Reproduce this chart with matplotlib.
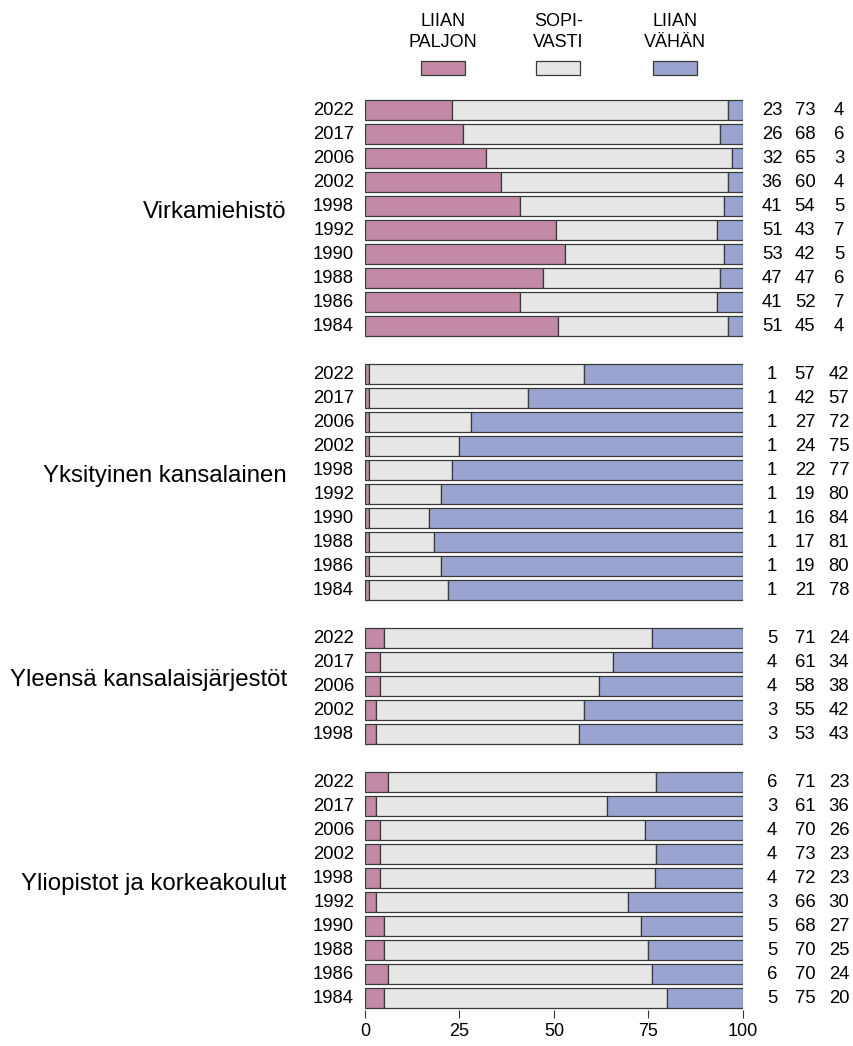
import matplotlib.pyplot as plt
from matplotlib.patches import Rectangle
from matplotlib.transforms import blended_transform_factory
import numpy as np

plt.rcParams["font.family"] = ["Liberation Sans", "DejaVu Sans"]

# survey groups, years (newest first) and answer shares in percent
groups = [
    "Virkamiehistö",
    "Yksityinen kansalainen",
    "Yleensä kansalaisjärjestöt",
    "Yliopistot ja korkeakoulut",
]
years_long = [2022, 2017, 2006, 2002, 1998, 1992, 1990, 1988, 1986, 1984]
years_short = [2022, 2017, 2006, 2002, 1998]
group_years = [years_long, years_long, years_short, years_long]

liian_paljon = [
    [23, 26, 32, 36, 41, 51, 53, 47, 41, 51],
    [1, 1, 1, 1, 1, 1, 1, 1, 1, 1],
    [5, 4, 4, 3, 3],
    [6, 3, 4, 4, 4, 3, 5, 5, 6, 5],
]
sopivasti = [
    [73, 68, 65, 60, 54, 43, 42, 47, 52, 45],
    [57, 42, 27, 24, 22, 19, 16, 17, 19, 21],
    [71, 61, 58, 55, 53],
    [71, 61, 70, 73, 72, 66, 68, 70, 70, 75],
]
liian_vahan = [
    [4, 6, 3, 4, 5, 7, 5, 6, 7, 4],
    [42, 57, 72, 75, 77, 80, 84, 81, 80, 78],
    [24, 34, 38, 42, 43],
    [23, 36, 26, 23, 23, 30, 27, 25, 24, 20],
]

legend_labels = ["LIIAN\nPALJON", "SOPI-\nVASTI", "LIIAN\nVÄHÄN"]
colors = ["#c38aa5", "#e6e6e6", "#9ba4d1"]
edge = "#3a3a3a"

fig = plt.figure(figsize=(8.54, 10.46), dpi=100)
ax = fig.add_axes([0.4274, 0.0344, 0.4426, 0.8719])

row = 0
for g, name in enumerate(groups):
    years = group_years[g]
    first = row
    for i, yr in enumerate(years):
        vals = np.array([liian_paljon[g][i], sopivasti[g][i], liian_vahan[g][i]], float)
        shares = vals / vals.sum() * 100
        left = 0.0
        for share, col in zip(shares, colors):
            ax.barh(row, share, left=left, height=0.83, color=col,
                    edgecolor=edge, linewidth=0.9)
            left += share
        ax.text(-2.9, row, str(yr), ha="right", va="center", fontsize=13.3)
        for xpos, v in zip([107.7, 116.4, 125.4], vals):
            ax.text(xpos, row, f"{int(v)}", ha="center", va="center",
                    fontsize=13.3, clip_on=False)
        row += 1
    mid = (first + row - 1) / 2
    ax.text(-20.7, mid - 0.25, name, ha="right", va="center", fontsize=17.3)
    row += 1

ax.set_ylim(row - 1.5, -0.5)
ax.set_xlim(0, 100)
ax.set_xticks([0, 25, 50, 75, 100])
ax.tick_params(axis="x", labelsize=13, length=5.5, color="#333333", pad=4)
ax.set_yticks([])
for side in ["top", "right", "left", "bottom"]:
    ax.spines[side].set_visible(False)

# legend boxes above the bars
trans = blended_transform_factory(ax.transData, fig.transFigure)
for xc, lab, col in zip([20.6, 51.1, 82.0], legend_labels, colors):
    ax.add_patch(Rectangle((xc - 5.8, 1 - 75 / 1046), 11.6, 14 / 1046,
                           transform=trans, facecolor=col, edgecolor=edge,
                           linewidth=0.9, clip_on=False))
    ax.text(xc, 1 - 32 / 1046, lab, transform=trans, ha="center", va="center",
            fontsize=13, linespacing=1.35)

fig.savefig("out.png", dpi=100)
